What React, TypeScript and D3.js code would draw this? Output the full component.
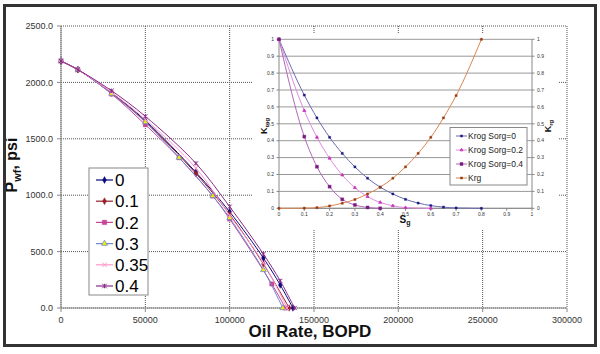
import React from "react";
import * as d3 from "d3";

// main chart: IPR curves for different Sorg
const rateTicks = [0, 50000, 100000, 150000, 200000, 250000, 300000];
const pwfTicks = [0, 500, 1000, 1500, 2000, 2500];
const sorgLabels = ["0", "0.1", "0.2", "0.3", "0.35", "0.4"];

const iprSorg0: [number, number][] = [[0, 2190], [10000, 2113], [30000, 1908], [50000, 1662], [80000, 1203], [100000, 853], [120000, 443], [130000, 204], [137500, 0]];
const iprSorg01: [number, number][] = [[0, 2190], [10000, 2113], [30000, 1904], [50000, 1652], [80000, 1192], [100000, 830], [120000, 390], [135300, 0]];
const iprSorg02: [number, number][] = [[0, 2190], [10000, 2113], [30000, 1897], [50000, 1625], [70000, 1332], [90000, 993], [100000, 789], [125000, 213], [133000, 0]];
const iprSorg03: [number, number][] = [[0, 2190], [10000, 2113], [30000, 1900], [50000, 1648], [70000, 1333], [90000, 993], [100000, 798], [120000, 337], [131500, 0]];
const iprSorg035: [number, number][] = [[0, 2190], [10000, 2113], [30000, 1912], [50000, 1672], [80000, 1240], [100000, 820], [120000, 400], [134000, 0]];
const iprSorg04: [number, number][] = [[0, 2190], [10000, 2113], [30000, 1926], [50000, 1699], [80000, 1282], [100000, 898], [120000, 478], [130000, 240], [138500, 0]];

// inset: relative permeability
const sgTicks = [0, 0.1, 0.2, 0.3, 0.4, 0.5, 0.6, 0.7, 0.8, 0.9, 1];
const kTicks = [0, 0.1, 0.2, 0.3, 0.4, 0.5, 0.6, 0.7, 0.8, 0.9, 1];
const inLabels = ["Krog Sorg=0", "Krog Sorg=0.2", "Krog Sorg=0.4", "Krg"];
const sgA = [0, 0.1, 0.15, 0.2, 0.25, 0.3, 0.35, 0.4, 0.45, 0.5, 0.55, 0.6, 0.65, 0.7, 0.8];
const krogSorg0 = [1, 0.67, 0.535, 0.42, 0.325, 0.245, 0.178, 0.125, 0.085, 0.053, 0.031, 0.016, 0.007, 0.002, 0];
const krg = [0, 0.001, 0.004, 0.014, 0.03, 0.052, 0.085, 0.125, 0.178, 0.245, 0.325, 0.42, 0.535, 0.667, 1];
const sgB = [0, 0.1, 0.15, 0.2, 0.25, 0.3, 0.35, 0.4, 0.45, 0.5, 0.6];
const krogSorg02 = [1, 0.578, 0.42, 0.296, 0.197, 0.122, 0.069, 0.035, 0.015, 0.004, 0];
const sgC = [0, 0.1, 0.15, 0.2, 0.25, 0.3, 0.35, 0.4];
const krogSorg04 = [1, 0.424, 0.246, 0.128, 0.053, 0.02, 0.005, 0];

const W = 600, H = 354;
const font = "Arial, 'Liberation Sans', sans-serif";

type Mk = "diamond" | "square" | "triangle" | "x" | "star" | "sq";

const Marker = ({ type, x, y, color, fill, size = 5 }: { type: Mk; x: number; y: number; color: string; fill?: string; size?: number }) => {
  const h = size / 2;
  if (type === "x")
    return <path d={`M${x - h},${y - h}L${x + h},${y + h}M${x - h},${y + h}L${x + h},${y - h}`} stroke={color} strokeWidth={1} fill="none" />;
  if (type === "star")
    return <path d={`M${x - h},${y - h}L${x + h},${y + h}M${x - h},${y + h}L${x + h},${y - h}M${x},${y - h}L${x},${y + h}`} stroke={color} strokeWidth={1} fill="none" />;
  const sym = type === "diamond" ? d3.symbolDiamond : type === "triangle" ? d3.symbolTriangle : d3.symbolSquare;
  const area = type === "diamond" ? size * size * 0.7 : type === "triangle" ? size * size * 0.75 : size * size;
  const p = d3.symbol(sym, area)() || "";
  return <path d={p} transform={`translate(${x},${y})`} fill={fill || color} stroke={color} strokeWidth={type === "triangle" ? 0.8 : 0.4} />;
};

export default function App() {
  // main plot
  const x = d3.scaleLinear().domain([0, 300000]).range([61, 567]);
  const y = d3.scaleLinear().domain([0, 2500]).range([308, 26]);
  const line = d3.line<[number, number]>().x(d => x(d[0])).y(d => y(d[1])).curve(d3.curveCatmullRom.alpha(0.5));

  const mainSeries = [
    { data: iprSorg0, color: "#0a0a80", mk: "diamond" as Mk, fill: undefined },
    { data: iprSorg01, color: "#99202a", mk: "diamond" as Mk, fill: undefined },
    { data: iprSorg02, color: "#c8449a", mk: "square" as Mk, fill: undefined },
    { data: iprSorg03, color: "#6e86d0", mk: "triangle" as Mk, fill: "#f4f000" },
    { data: iprSorg035, color: "#ff99cc", mk: "x" as Mk, fill: undefined },
    { data: iprSorg04, color: "#8a2a8a", mk: "star" as Mk, fill: undefined },
  ];

  // inset
  const ix = d3.scaleLinear().domain([0, 1]).range([279, 532]);
  const iy = d3.scaleLinear().domain([0, 1]).range([208.3, 39.3]);
  const iline = d3.line<[number, number]>().x(d => ix(d[0])).y(d => iy(d[1])).curve(d3.curveMonotoneX);
  const zip = (a: number[], b: number[]) => a.map((v, i) => [v, b[i]] as [number, number]);
  const inSeries = [
    { data: zip(sgA, krogSorg0), line: "#6a6ab0", mk: "#1a1a80", type: "sq" as Mk, size: 2.1 },
    { data: zip(sgB, krogSorg02), line: "#e08ae0", mk: "#cc33bb", type: "triangle" as Mk, size: 2.3 },
    { data: zip(sgC, krogSorg04), line: "#b066b6", mk: "#7a1a80", type: "sq" as Mk, size: 3 },
    { data: zip(sgA, krg), line: "#d88650", mk: "#9a3a10", type: "sq" as Mk, size: 2.1 },
  ];
  const f1 = d3.format(".1f");
  const fk = d3.format(".1~f");

  return (
    <div style={{ position: "fixed", left: 0, top: 0 }}>
      <svg width={W} height={H} style={{ display: "block", background: "#fff" }} fontFamily={font}>
        {/* grid */}
        {pwfTicks.map(t => (
          <line key={"gy" + t} x1={61} x2={567} y1={y(t)} y2={y(t)} stroke="#555" strokeWidth={1} strokeDasharray="1,1" />
        ))}
        {rateTicks.map(t => (
          <line key={"gx" + t} x1={x(t)} x2={x(t)} y1={26} y2={308} stroke="#555" strokeWidth={1} strokeDasharray="1,1" />
        ))}
        {/* axes */}
        <line x1={61} x2={61} y1={26} y2={308} stroke="#888" />
        <line x1={61} x2={567} y1={308} y2={308} stroke="#888" />
        {pwfTicks.map(t => (
          <g key={"ty" + t}>
            <line x1={57} x2={61} y1={y(t)} y2={y(t)} stroke="#888" />
            <text x={53} y={y(t)} dy="0.35em" textAnchor="end" fontSize={9} fill="#333">{f1(t)}</text>
          </g>
        ))}
        {rateTicks.map(t => (
          <g key={"tx" + t}>
            <line x1={x(t)} x2={x(t)} y1={308} y2={312} stroke="#888" />
            <text x={x(t)} y={323} textAnchor="middle" fontSize={9} fill="#333">{t}</text>
          </g>
        ))}

        {/* series */}
        {mainSeries.map((s, i) => (
          <g key={"s" + i}>
            <path d={line(s.data) || ""} fill="none" stroke={s.color} strokeWidth={1} />
            {s.data.map((d, j) => (
              <Marker key={j} type={s.mk} x={x(d[0])} y={y(d[1])} color={s.color} fill={s.fill} size={4.3} />
            ))}
          </g>
        ))}

        {/* titles */}
        <text transform="translate(17,165) rotate(-90)" textAnchor="middle" fontSize={16} fontWeight="bold" fill="#111">
          P<tspan fontSize={11} dy={4}>wf</tspan><tspan dy={-4}>, psi</tspan>
        </text>
        <text x={310} y={337} textAnchor="middle" fontSize={17} fontWeight="bold" fill="#111">Oil Rate, BOPD</text>

        {/* legend */}
        <rect x={89} y={168} width={59} height={127} fill="#fff" stroke="#888" />
        {mainSeries.map((s, i) => {
          const ly = 180 + i * 21.2;
          return (
            <g key={"l" + i}>
              <line x1={96} x2={113} y1={ly} y2={ly} stroke={s.color} strokeWidth={1.2} />
              <Marker type={s.mk} x={104.5} y={ly} color={s.color} fill={s.fill} size={4.5} />
              <text x={115} y={ly} dy="0.36em" fontSize={17} fill="#000">{sorgLabels[i]}</text>
            </g>
          );
        })}

        {/* inset */}
        <rect x={253} y={33} width={305} height={196} fill="#fff" />
        {kTicks.map(t => (
          <line key={"ig" + t} x1={ix(0)} x2={ix(1)} y1={iy(t)} y2={iy(t)} stroke="#999" strokeWidth={1} />
        ))}
        <line x1={ix(0)} x2={ix(0)} y1={iy(1)} y2={iy(0)} stroke="#888" />
        <line x1={ix(1)} x2={ix(1)} y1={iy(1)} y2={iy(0)} stroke="#888" />
        <line x1={ix(0)} x2={ix(1)} y1={iy(0)} y2={iy(0)} stroke="#888" />
        {kTicks.map(t => (
          <g key={"ik" + t}>
            <line x1={ix(0) - 2.5} x2={ix(0)} y1={iy(t)} y2={iy(t)} stroke="#888" />
            <line x1={ix(1)} x2={ix(1) + 2.5} y1={iy(t)} y2={iy(t)} stroke="#888" />
            <text x={ix(0) - 5} y={iy(t)} dy="0.35em" textAnchor="end" fontSize={5} fill="#333">{fk(t)}</text>
            <text x={ix(1) + 5} y={iy(t)} dy="0.35em" textAnchor="start" fontSize={5} fill="#333">{fk(t)}</text>
          </g>
        ))}
        {sgTicks.map(t => (
          <g key={"is" + t}>
            <line x1={ix(t)} x2={ix(t)} y1={iy(0)} y2={iy(0) + 2.5} stroke="#888" />
            <text x={ix(t)} y={iy(0) + 8} textAnchor="middle" fontSize={5} fill="#333">{fk(t)}</text>
          </g>
        ))}
        {inSeries.map((s, i) => (
          <g key={"is" + i}>
            <path d={iline(s.data) || ""} fill="none" stroke={s.line} strokeWidth={1} />
            {s.data.map((d, j) => (
              <Marker key={j} type={s.type} x={ix(d[0])} y={iy(d[1])} color={s.mk} size={s.size} />
            ))}
          </g>
        ))}
        <text transform="translate(267,126) rotate(-90)" textAnchor="middle" fontSize={9} fontWeight="bold" fill="#111">
          K<tspan fontSize={6} dy={2}>rog</tspan>
        </text>
        <text transform="translate(551,126) rotate(-90)" textAnchor="middle" fontSize={9} fontWeight="bold" fill="#111">
          K<tspan fontSize={6} dy={2}>rg</tspan>
        </text>
        <text x={405} y={223} textAnchor="middle" fontSize={10} fontWeight="bold" fill="#111">
          S<tspan fontSize={7} dy={2}>g</tspan>
        </text>
        <rect x={450} y={127.5} width={77} height={57.5} fill="#fff" stroke="#888" />
        {inSeries.map((s, i) => {
          const ly = 136 + i * 14;
          return (
            <g key={"il" + i}>
              <line x1={456} x2={467} y1={ly} y2={ly} stroke={s.line} strokeWidth={1} />
              <Marker type={s.type} x={461.5} y={ly} color={s.mk} size={s.size} />
              <text x={468} y={ly} dy="0.35em" fontSize={8.5} fill="#222">{inLabels[i]}</text>
            </g>
          );
        })}

        {/* outer frame */}
        <rect x={4.5} y={5.5} width={591} height={340} fill="none" stroke="#333" strokeWidth={3} />
      </svg>
    </div>
  );
}
